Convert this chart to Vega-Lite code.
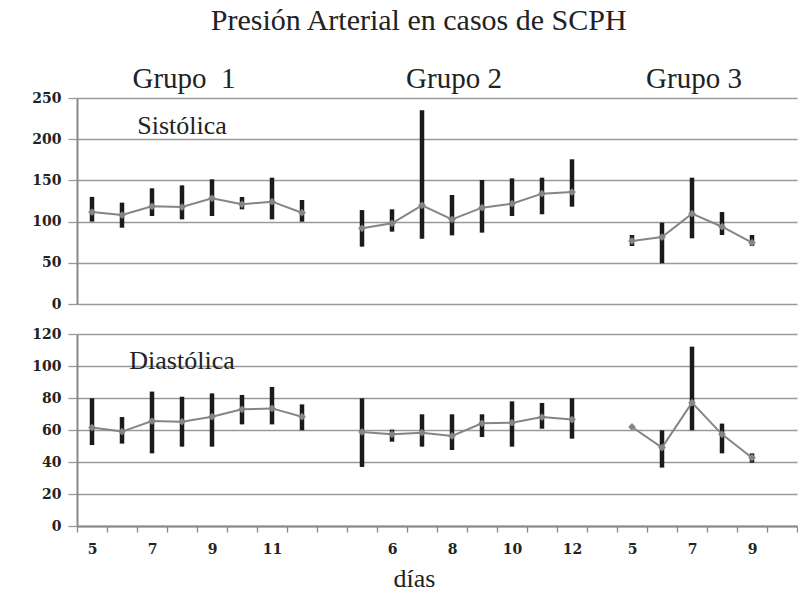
{
  "$schema": "https://vega.github.io/schema/vega-lite/v6.json",
  "padding": {"left": 31, "top": 6, "right": 0, "bottom": 0},
  "background": "white",
  "title": {
    "text": "Presión Arterial en casos de SCPH",
    "font": "Liberation Serif",
    "fontSize": 30,
    "fontWeight": "normal",
    "color": "#222222",
    "anchor": "middle",
    "offset": 29,
    "dx": 4
  },
  "config": {
    "view": {"stroke": null},
    "axisY": {
      "title": null,
      "grid": true,
      "gridColor": "#9a9a9a",
      "gridWidth": 1.3,
      "domainColor": "#888888",
      "domainWidth": 2,
      "tickColor": "#9a9a9a",
      "tickSize": 9,
      "tickWidth": 1.3,
      "labelFont": "DejaVu Serif",
      "labelFontWeight": "bold",
      "labelFontSize": 14,
      "labelColor": "#222222",
      "labelPadding": 7,
      "labelOverlap": false
    }
  },
  "datasets": {
    "bp": [
      {"panel": "Sistólica", "grupo": "Grupo 1", "dia": 5, "cat": "G1-5", "media": 111.6, "min": 100, "max": 130},
      {"panel": "Sistólica", "grupo": "Grupo 1", "dia": 6, "cat": "G1-6", "media": 108, "min": 92.6, "max": 123},
      {"panel": "Sistólica", "grupo": "Grupo 1", "dia": 7, "cat": "G1-7", "media": 118.5, "min": 106.8, "max": 140.4},
      {"panel": "Sistólica", "grupo": "Grupo 1", "dia": 8, "cat": "G1-8", "media": 117.7, "min": 102.7, "max": 144},
      {"panel": "Sistólica", "grupo": "Grupo 1", "dia": 9, "cat": "G1-9", "media": 128.3, "min": 106.8, "max": 151.3},
      {"panel": "Sistólica", "grupo": "Grupo 1", "dia": 10, "cat": "G1-10", "media": 121, "min": 114.9, "max": 129.9},
      {"panel": "Sistólica", "grupo": "Grupo 1", "dia": 11, "cat": "G1-11", "media": 124.2, "min": 102.7, "max": 153.3},
      {"panel": "Sistólica", "grupo": "Grupo 1", "dia": 12, "cat": "G1-12", "media": 110.8, "min": 99.9, "max": 126.2},
      {"panel": "Sistólica", "grupo": "Grupo 2", "dia": 5, "cat": "G2-5", "media": 91.9, "min": 69.6, "max": 114},
      {"panel": "Sistólica", "grupo": "Grupo 2", "dia": 6, "cat": "G2-6", "media": 97.9, "min": 87.8, "max": 114.9},
      {"panel": "Sistólica", "grupo": "Grupo 2", "dia": 7, "cat": "G2-7", "media": 119.8, "min": 79.3, "max": 235},
      {"panel": "Sistólica", "grupo": "Grupo 2", "dia": 8, "cat": "G2-8", "media": 102.7, "min": 83.3, "max": 132.3},
      {"panel": "Sistólica", "grupo": "Grupo 2", "dia": 9, "cat": "G2-9", "media": 116.9, "min": 86.6, "max": 150.5},
      {"panel": "Sistólica", "grupo": "Grupo 2", "dia": 10, "cat": "G2-10", "media": 121.7, "min": 106.8, "max": 152.5},
      {"panel": "Sistólica", "grupo": "Grupo 2", "dia": 11, "cat": "G2-11", "media": 133.9, "min": 108.9, "max": 153.3},
      {"panel": "Sistólica", "grupo": "Grupo 2", "dia": 12, "cat": "G2-12", "media": 135.9, "min": 118.1, "max": 175.6},
      {"panel": "Sistólica", "grupo": "Grupo 3", "dia": 5, "cat": "G3-5", "media": 76.5, "min": 70.4, "max": 83.7},
      {"panel": "Sistólica", "grupo": "Grupo 3", "dia": 6, "cat": "G3-6", "media": 81.3, "min": 49.4, "max": 98.7},
      {"panel": "Sistólica", "grupo": "Grupo 3", "dia": 7, "cat": "G3-7", "media": 109.6, "min": 79.7, "max": 153.3},
      {"panel": "Sistólica", "grupo": "Grupo 3", "dia": 8, "cat": "G3-8", "media": 93.8, "min": 83.7, "max": 111.6},
      {"panel": "Sistólica", "grupo": "Grupo 3", "dia": 9, "cat": "G3-9", "media": 74.4, "min": 70.4, "max": 83.7},
      {"panel": "Diastólica", "grupo": "Grupo 1", "dia": 5, "cat": "G1-5", "media": 61.5, "min": 50.6, "max": 79.8},
      {"panel": "Diastólica", "grupo": "Grupo 1", "dia": 6, "cat": "G1-6", "media": 59, "min": 51.5, "max": 68.1},
      {"panel": "Diastólica", "grupo": "Grupo 1", "dia": 7, "cat": "G1-7", "media": 65.6, "min": 45.4, "max": 84},
      {"panel": "Diastólica", "grupo": "Grupo 1", "dia": 8, "cat": "G1-8", "media": 65.2, "min": 49.6, "max": 80.8},
      {"panel": "Diastólica", "grupo": "Grupo 1", "dia": 9, "cat": "G1-9", "media": 68.3, "min": 49.6, "max": 82.9},
      {"panel": "Diastólica", "grupo": "Grupo 1", "dia": 10, "cat": "G1-10", "media": 72.9, "min": 63.5, "max": 81.9},
      {"panel": "Diastólica", "grupo": "Grupo 1", "dia": 11, "cat": "G1-11", "media": 73.5, "min": 63.5, "max": 86.9},
      {"panel": "Diastólica", "grupo": "Grupo 1", "dia": 12, "cat": "G1-12", "media": 68.3, "min": 59.8, "max": 76},
      {"panel": "Diastólica", "grupo": "Grupo 2", "dia": 5, "cat": "G2-5", "media": 58.8, "min": 36.9, "max": 79.8},
      {"panel": "Diastólica", "grupo": "Grupo 2", "dia": 6, "cat": "G2-6", "media": 57.3, "min": 52.7, "max": 60.2},
      {"panel": "Diastólica", "grupo": "Grupo 2", "dia": 7, "cat": "G2-7", "media": 58.3, "min": 49.6, "max": 69.8},
      {"panel": "Diastólica", "grupo": "Grupo 2", "dia": 8, "cat": "G2-8", "media": 56.3, "min": 47.5, "max": 69.8},
      {"panel": "Diastólica", "grupo": "Grupo 2", "dia": 9, "cat": "G2-9", "media": 64.2, "min": 55.6, "max": 69.8},
      {"panel": "Diastólica", "grupo": "Grupo 2", "dia": 10, "cat": "G2-10", "media": 64.6, "min": 49.6, "max": 77.9},
      {"panel": "Diastólica", "grupo": "Grupo 2", "dia": 11, "cat": "G2-11", "media": 68.1, "min": 60.8, "max": 76.9},
      {"panel": "Diastólica", "grupo": "Grupo 2", "dia": 12, "cat": "G2-12", "media": 66.5, "min": 54.6, "max": 79.8},
      {"panel": "Diastólica", "grupo": "Grupo 3", "dia": 5, "cat": "G3-5", "media": 61.9, "min": null, "max": null},
      {"panel": "Diastólica", "grupo": "Grupo 3", "dia": 6, "cat": "G3-6", "media": 49, "min": 36.5, "max": 59.8},
      {"panel": "Diastólica", "grupo": "Grupo 3", "dia": 7, "cat": "G3-7", "media": 77.1, "min": 59.8, "max": 112.1},
      {"panel": "Diastólica", "grupo": "Grupo 3", "dia": 8, "cat": "G3-8", "media": 57.3, "min": 45.4, "max": 64},
      {"panel": "Diastólica", "grupo": "Grupo 3", "dia": 9, "cat": "G3-9", "media": 42.7, "min": 39.6, "max": 45.4}
    ]
  },
  "spacing": 16,
  "vconcat": [
    {
      "width": 720,
      "height": 206,
      "data": {"name": "bp"},
      "transform": [{"filter": "datum.panel === 'Sistólica'"}],
      "encoding": {
        "x": {
          "field": "cat",
          "type": "ordinal",
          "scale": {
            "type": "band",
            "paddingInner": 0,
            "paddingOuter": 0,
            "domain": ["G1-5","G1-6","G1-7","G1-8","G1-9","G1-10","G1-11","G1-12","gap1","G2-5","G2-6","G2-7","G2-8","G2-9","G2-10","G2-11","G2-12","gap2","G3-5","G3-6","G3-7","G3-8","G3-9","gap3"]
          },
          "axis": null
        }
      },
      "layer": [
        {
          "mark": {"type": "rule", "strokeWidth": 4.5, "color": "#1a1a1a"},
          "encoding": {
            "y": {"field": "min", "type": "quantitative", "scale": {"domain": [0, 250], "nice": false}, "axis": {"values": [0, 50, 100, 150, 200, 250], "labelOverlap": false}},
            "y2": {"field": "max"}
          }
        },
        {
          "mark": {"type": "line", "strokeWidth": 2, "color": "#858585"},
          "encoding": {
            "y": {"field": "media", "type": "quantitative", "axis": {"values": [0, 50, 100, 150, 200, 250], "labelOverlap": false}},
            "detail": {"field": "grupo"}
          }
        },
        {
          "mark": {"type": "point", "shape": "diamond", "filled": true, "size": 60, "color": "#858585", "opacity": 1},
          "encoding": {"y": {"field": "media", "type": "quantitative", "axis": {"values": [0, 50, 100, 150, 200, 250], "labelOverlap": false}}}
        },
        {
          "data": {"values": [{"t": "Sistólica", "cat": "G1-8", "v": 216}]},
          "mark": {"type": "text", "font": "Liberation Serif", "fontSize": 26, "color": "#222222", "baseline": "middle", "align": "center"},
          "encoding": {
            "x": {"field": "cat", "type": "ordinal"},
            "y": {"field": "v", "type": "quantitative", "axis": {"values": [0, 50, 100, 150, 200, 250], "labelOverlap": false}},
            "text": {"field": "t"}
          }
        },
        {
          "data": {"values": [
            {"t": "Grupo \u00a01", "cat": "G1-8"},
            {"t": "Grupo 2", "cat": "G2-8"},
            {"t": "Grupo 3", "cat": "G3-7"}
          ]},
          "mark": {"type": "text", "font": "Liberation Serif", "fontSize": 29, "color": "#222222", "baseline": "alphabetic", "align": "center", "dy": -10, "dx": 2},
          "encoding": {
            "x": {"field": "cat", "type": "ordinal"},
            "y": {"datum": 250, "type": "quantitative", "axis": {"values": [0, 50, 100, 150, 200, 250], "labelOverlap": false}},
            "text": {"field": "t"}
          }
        }
      ]
    },
    {
      "width": 720,
      "height": 192,
      "data": {"name": "bp"},
      "transform": [{"filter": "datum.panel === 'Diastólica'"}],
      "encoding": {
        "x": {
          "field": "cat",
          "type": "ordinal",
          "scale": {
            "type": "band",
            "paddingInner": 0,
            "paddingOuter": 0,
            "domain": ["G1-5","G1-6","G1-7","G1-8","G1-9","G1-10","G1-11","G1-12","gap1","G2-5","G2-6","G2-7","G2-8","G2-9","G2-10","G2-11","G2-12","gap2","G3-5","G3-6","G3-7","G3-8","G3-9","gap3"]
          },
          "axis": {
            "title": "días",
            "titleFont": "Liberation Serif",
            "titleFontSize": 26,
            "titleFontWeight": "normal",
            "titleColor": "#222222",
            "titlePadding": 9,
            "titleX": 337,
            "labelExpr": "indexof(['G1-5','G1-7','G1-9','G1-11','G2-6','G2-8','G2-10','G2-12','G3-5','G3-7','G3-9'], datum.value) >= 0 ? split(datum.value, '-')[1] : ''",
            "labelFont": "DejaVu Serif",
            "labelFontWeight": "bold",
            "labelFontSize": 14,
            "labelColor": "#222222",
            "labelAngle": 0,
            "labelPadding": 10,
            "labelOverlap": false,
            "tickBand": "extent",
            "tickSize": 6,
            "tickColor": "#888888",
            "tickWidth": 1.3,
            "domainColor": "#888888",
            "domainWidth": 2,
            "grid": false
          }
        }
      },
      "layer": [
        {
          "mark": {"type": "rule", "strokeWidth": 4.5, "color": "#1a1a1a"},
          "encoding": {
            "y": {"field": "min", "type": "quantitative", "scale": {"domain": [0, 120], "nice": false}, "axis": {"values": [0, 20, 40, 60, 80, 100, 120], "labelOverlap": false}},
            "y2": {"field": "max"}
          }
        },
        {
          "mark": {"type": "line", "strokeWidth": 2, "color": "#858585"},
          "encoding": {
            "y": {"field": "media", "type": "quantitative", "axis": {"values": [0, 20, 40, 60, 80, 100, 120], "labelOverlap": false}},
            "detail": {"field": "grupo"}
          }
        },
        {
          "mark": {"type": "point", "shape": "diamond", "filled": true, "size": 60, "color": "#858585", "opacity": 1},
          "encoding": {"y": {"field": "media", "type": "quantitative", "axis": {"values": [0, 20, 40, 60, 80, 100, 120], "labelOverlap": false}}}
        },
        {
          "data": {"values": [{"t": "Diastólica", "cat": "G1-8", "v": 103}]},
          "mark": {"type": "text", "font": "Liberation Serif", "fontSize": 26, "color": "#222222", "baseline": "middle", "align": "center"},
          "encoding": {
            "x": {"field": "cat", "type": "ordinal"},
            "y": {"field": "v", "type": "quantitative", "axis": {"values": [0, 20, 40, 60, 80, 100, 120], "labelOverlap": false}},
            "text": {"field": "t"}
          }
        }
      ]
    }
  ]
}
